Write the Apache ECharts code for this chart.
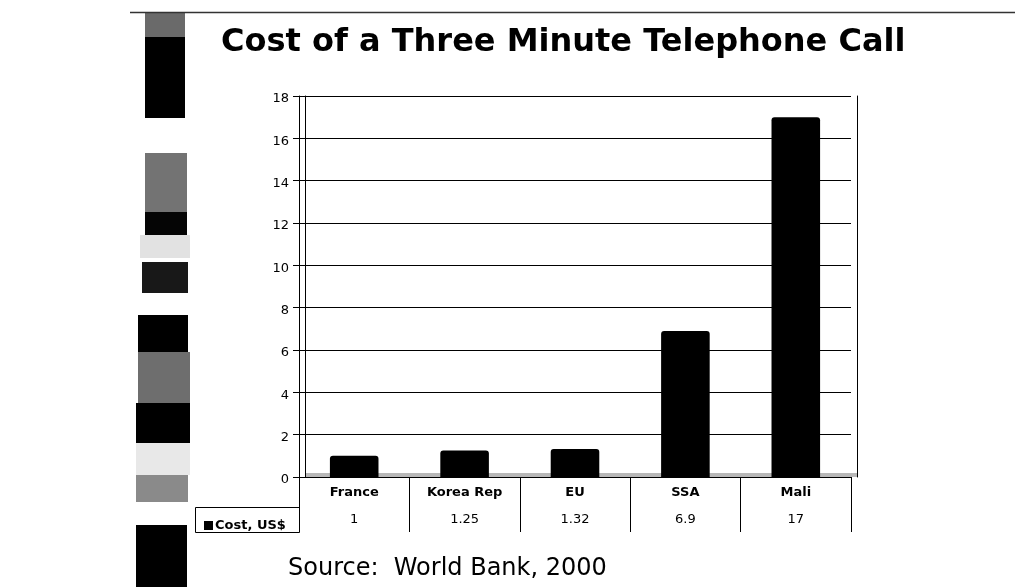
<!DOCTYPE html>
<html>
<head>
<meta charset="utf-8">
<script src="https://cdn.jsdelivr.net/npm/echarts@6/dist/echarts.min.js"></script>
<style>html,body{margin:0;padding:0;background:#fff;}#c{width:1015px;height:587px;}</style>
</head>
<body>
<div id="c"></div>
<script>
var categories = ['France', 'Korea Rep', 'EU', 'SSA', 'Mali'];
var costs = [1, 1.25, 1.32, 6.9, 17];
var seriesName = 'Cost, US$';
var yTicks = {min: 0, max: 18, interval: 2};
var titleText = 'Cost of a Three Minute Telephone Call';
var sourceText = 'Source:  World Bank, 2000';

var stripBlocks = [
  [145, 13, 40, 24, '#6a6a6a'],
  [145, 37, 40, 81, '#000000'],
  [145, 153, 42, 59, '#737373'],
  [145, 212, 42, 23, '#050505'],
  [140, 235, 50, 23, '#e2e2e2'],
  [142, 262, 46, 31, '#181818'],
  [138, 315, 50, 37, '#000000'],
  [138, 352, 52, 51, '#6e6e6e'],
  [136, 403, 54, 40, '#000000'],
  [136, 443, 54, 32, '#e8e8e8'],
  [136, 475, 52, 27, '#8a8a8a'],
  [136, 525, 51, 62, '#000000']
];

var chart = echarts.init(document.getElementById('c'), null, {renderer: 'canvas'});
var graphics = stripBlocks.map(function (b) {
  return {type: 'rect', shape: {x: b[0], y: b[1], width: b[2], height: b[3]}, style: {fill: b[4]}, silent: true};
});
graphics.push({type: 'line', shape: {x1: 130, y1: 12.5, x2: 1015, y2: 12.5}, style: {stroke: '#333', lineWidth: 1.5}});
graphics.push({type: 'rect', shape: {x: 195.5, y: 507.5, width: 104, height: 25}, style: {fill: 'none', stroke: '#000', lineWidth: 1}});
graphics.push({type: 'rect', shape: {x: 305, y: 473, width: 552, height: 4}, style: {fill: '#b8b8b8'}, silent: true, z: -1});
graphics.push({type: 'text', x: 288, y: 569, style: {text: sourceText, fontFamily: 'DejaVu Sans', fontSize: 24, fill: '#000', verticalAlign: 'middle'}});

var axisFont = {fontFamily: 'DejaVu Sans', fontSize: 13, color: '#000'};
chart.setOption({
  animation: false,
  backgroundColor: '#fff',
  title: {
    text: titleText, left: 216, top: 22,
    textStyle: {fontFamily: 'DejaVu Sans', fontWeight: 'bold', fontSize: 32, color: '#000'}
  },
  legend: {
    left: 199, top: 514, itemWidth: 9, itemHeight: 9, icon: 'rect',
    data: [seriesName],
    textStyle: {fontFamily: 'DejaVu Sans', fontWeight: 'bold', fontSize: 13, color: '#000', padding: [0, 0, 0, -3]}
  },
  grid: {left: 299, right: 164, top: 96, bottom: 110},
  xAxis: [
    {
      type: 'category', data: categories, position: 'bottom',
      axisLine: {show: true, lineStyle: {color: '#000', width: 1}},
      axisTick: {show: true, length: 55, interval: 0, lineStyle: {color: '#000'}},
      axisLabel: Object.assign({margin: 9, fontWeight: 'bold', interval: 0}, axisFont)
    },
    {
      type: 'category', data: costs.map(String), position: 'bottom', offset: 30,
      axisLine: {show: true, lineStyle: {color: '#000', width: 1}},
      axisTick: {show: false},
      axisLabel: Object.assign({margin: 6, interval: 0}, axisFont)
    },
    {
      type: 'category', data: categories, position: 'bottom', offset: 55,
      axisLine: {show: true, lineStyle: {color: '#000', width: 1}},
      axisTick: {show: false}, axisLabel: {show: false}
    }
  ],
  yAxis: [
    {
      type: 'value', min: yTicks.min, max: yTicks.max, interval: yTicks.interval,
      axisLine: {show: true, lineStyle: {color: '#000'}},
      axisTick: {show: true, length: 6, lineStyle: {color: '#000'}},
      axisLabel: Object.assign({margin: 10, verticalAlign: 'top', lineHeight: 6}, axisFont),
      splitLine: {show: true, lineStyle: {color: '#000', width: 1}}
    },
    {
      type: 'value', min: yTicks.min, max: yTicks.max, interval: yTicks.interval, position: 'right', offset: 6,
      axisLine: {show: true, lineStyle: {color: '#000'}},
      axisTick: {show: false}, axisLabel: {show: false}, splitLine: {show: false}
    },
    {
      type: 'value', min: yTicks.min, max: yTicks.max, interval: yTicks.interval, position: 'left', offset: -6,
      axisLine: {show: true, lineStyle: {color: '#000'}},
      axisTick: {show: false}, axisLabel: {show: false}, splitLine: {show: false}
    }
  ],
  series: [{
    name: seriesName, type: 'bar', data: costs, barWidth: '44%',
    itemStyle: {color: '#000', borderRadius: [3, 3, 0, 0]}
  }],
  graphic: graphics
});
</script>
</body>
</html>
